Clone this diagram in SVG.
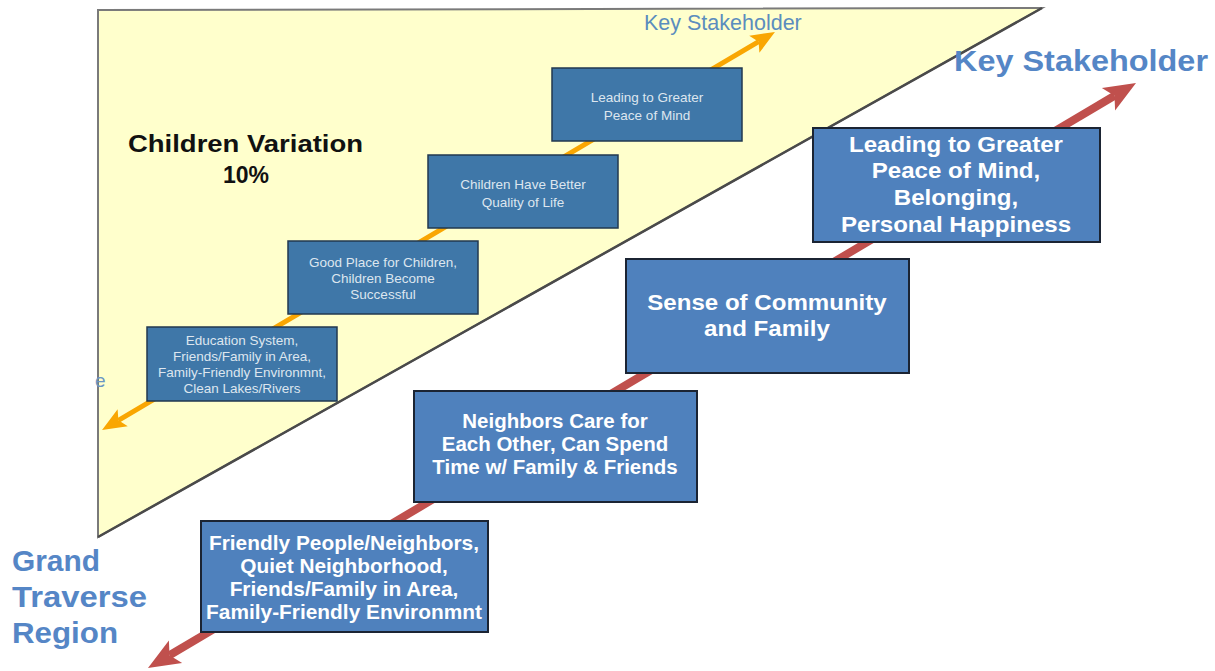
<svg xmlns="http://www.w3.org/2000/svg" width="1215" height="671" viewBox="0 0 1215 671">
<style>
.sbox{fill:#3F77A8;stroke:#22384F;stroke-width:1.5}
.bbox{fill:#4F81BD;stroke:#1B2433;stroke-width:2}
.stxt{font-family:"Liberation Sans",Arial,sans-serif;font-size:13.5px;fill:#DDE6EF;text-anchor:middle}
.btxt{font-family:"Liberation Sans",Arial,sans-serif;font-weight:bold;fill:#FFFFFF;text-anchor:middle}
.blue{font-family:"Liberation Sans",Arial,sans-serif;font-weight:bold;fill:#5586C6}
</style>
<defs>
<marker id="ho" markerUnits="userSpaceOnUse" markerWidth="30" markerHeight="24" viewBox="0 -12 26 24" refX="5" refY="0" orient="auto-start-reverse">
<path d="M0,-10 L24,0 L0,10 L5,0 z" fill="#F9A602"/>
</marker>
<marker id="hr" markerUnits="userSpaceOnUse" markerWidth="36" markerHeight="30" viewBox="0 -15 34 30" refX="7" refY="0" orient="auto-start-reverse">
<path d="M0,-13 L32,0 L0,13 L7,0 z" fill="#C0504D"/>
</marker>
</defs>
<rect width="1215" height="671" fill="#FFFFFF"/>
<g id="triangle">
<polygon points="98,10 1042,8 98,537" fill="#FFFFCC" stroke="#7A7A7A" stroke-width="2"/>
<line x1="1042" y1="8" x2="98" y2="537" stroke="#4A4A4A" stroke-width="2.5"/>
</g>
<g id="connectors">
<line x1="118.4" y1="420.3" x2="758.6" y2="41.7" stroke="#F9A602" stroke-width="5" marker-start="url(#ho)" marker-end="url(#ho)"/>
<line x1="169.5" y1="655.3" x2="1114.5" y2="95.7" stroke="#C0504D" stroke-width="8" marker-start="url(#hr)" marker-end="url(#hr)"/>
</g>
<g id="s1">
<rect class="sbox" x="147" y="327" width="190" height="74"/>
<text class="stxt" x="242" y="345">Education System,</text>
<text class="stxt" x="242" y="361">Friends/Family in Area,</text>
<text class="stxt" x="242" y="377">Family-Friendly Environmnt,</text>
<text class="stxt" x="242" y="393">Clean Lakes/Rivers</text>
</g>
<g id="s2">
<rect class="sbox" x="288" y="241" width="190" height="73"/>
<text class="stxt" x="383" y="267">Good Place for Children,</text>
<text class="stxt" x="383" y="283">Children Become</text>
<text class="stxt" x="383" y="299">Successful</text>
</g>
<g id="s3">
<rect class="sbox" x="428" y="155" width="190" height="73"/>
<text class="stxt" x="523" y="189">Children Have Better</text>
<text class="stxt" x="523" y="207">Quality of Life</text>
</g>
<g id="s4">
<rect class="sbox" x="552" y="68" width="190" height="73"/>
<text class="stxt" x="647" y="102">Leading to Greater</text>
<text class="stxt" x="647" y="120">Peace of Mind</text>
</g>
<g id="b1">
<rect class="bbox" x="201" y="521" width="287" height="111"/>
<g transform="translate(344 0) scale(1.07 1) translate(-344 0)">
<text class="btxt" x="344" y="550" font-size="19.5">Friendly People/Neighbors,</text>
<text class="btxt" x="344" y="573" font-size="19.5">Quiet Neighborhood,</text>
<text class="btxt" x="344" y="596" font-size="19.5">Friends/Family in Area,</text>
<text class="btxt" x="344" y="619" font-size="19.5">Family-Friendly Environmnt</text>
</g>
</g>
<g id="b2">
<rect class="bbox" x="414" y="391" width="283" height="111"/>
<g transform="translate(555 0) scale(1.05 1) translate(-555 0)">
<text class="btxt" x="555" y="428" font-size="19.5">Neighbors Care for</text>
<text class="btxt" x="555" y="451" font-size="19.5">Each Other, Can Spend</text>
<text class="btxt" x="555" y="474" font-size="19.5">Time w/ Family &amp; Friends</text>
</g>
</g>
<g id="b3">
<rect class="bbox" x="626" y="259" width="283" height="114"/>
<g transform="translate(767 0) scale(1.07 1) translate(-767 0)">
<text class="btxt" x="767" y="310" font-size="22.5">Sense of Community</text>
<text class="btxt" x="767" y="336" font-size="22.5">and Family</text>
</g>
</g>
<g id="b4">
<rect class="bbox" x="813" y="128" width="287" height="114"/>
<g transform="translate(956 0) scale(1.07 1) translate(-956 0)">
<text class="btxt" x="956" y="152" font-size="22.5">Leading to Greater</text>
<text class="btxt" x="956" y="178" font-size="22.5">Peace of Mind,</text>
<text class="btxt" x="956" y="205" font-size="22.5">Belonging,</text>
<text class="btxt" x="956" y="232" font-size="22.5">Personal Happiness</text>
</g>
</g>
<g id="labels">
<text x="128" y="152" font-family="'Liberation Sans',Arial,sans-serif" font-weight="bold" font-size="23" fill="#111111" textLength="235" lengthAdjust="spacingAndGlyphs">Children Variation</text>
<text x="246" y="183" font-family="'Liberation Sans',Arial,sans-serif" font-weight="bold" font-size="23" fill="#111111" text-anchor="middle">10%</text>
<text x="644" y="30" font-family="'Liberation Sans',Arial,sans-serif" font-size="21.5" fill="#5B8DBE">Key Stakeholder</text>
<text x="95" y="387" font-family="'Liberation Sans',Arial,sans-serif" font-size="19" fill="#6A96C4">e</text>
<text class="blue" x="954" y="71" font-size="30" textLength="254" lengthAdjust="spacingAndGlyphs">Key Stakeholder</text>
<text class="blue" x="12" y="571" font-size="30" textLength="88" lengthAdjust="spacingAndGlyphs">Grand</text>
<text class="blue" x="12" y="607" font-size="30" textLength="135" lengthAdjust="spacingAndGlyphs">Traverse</text>
<text class="blue" x="12" y="643" font-size="30" textLength="106" lengthAdjust="spacingAndGlyphs">Region</text>
</g>
</svg>
